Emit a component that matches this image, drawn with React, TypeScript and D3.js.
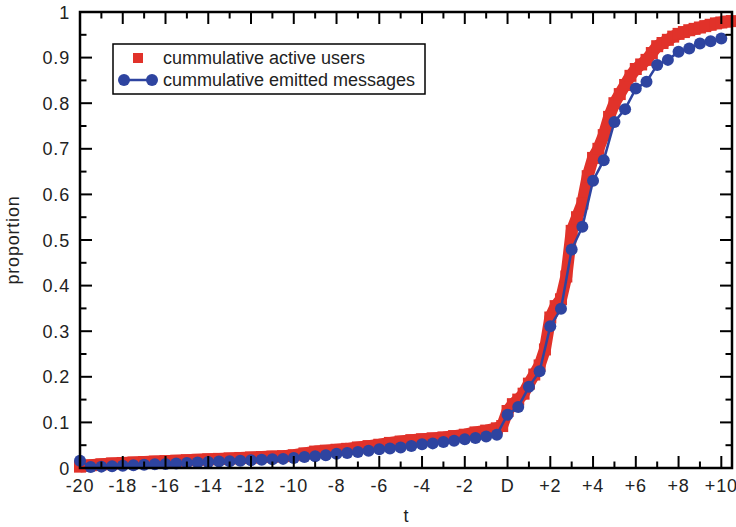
import { scaleLinear, line, range } from "d3";

const width = 736;
const height = 527;
const margin = { top: 12, right: 4, bottom: 59, left: 80 };

const xMin = -20;
const xMax = 10.5;

const xTickValues = [-20, -18, -16, -14, -12, -10, -8, -6, -4, -2, 0, 2, 4, 6, 8, 10];
const xTickLabels = ["-20", "-18", "-16", "-14", "-12", "-10", "-8", "-6", "-4", "-2", "D", "+2", "+4", "+6", "+8", "+10"];
const yTickValues = [0, 0.1, 0.2, 0.3, 0.4, 0.5, 0.6, 0.7, 0.8, 0.9, 1];
const yTickLabels = ["0", "0.1", "0.2", "0.3", "0.4", "0.5", "0.6", "0.7", "0.8", "0.9", "1"];

// cummulative active users (red squares)
const usersT = [
  -20, -19.5, -19, -18.5, -18, -17.5, -17, -16.5, -16, -15.5, -15, -14.5, -14, -13.5, -13, -12.5,
  -12, -11.5, -11, -10.5, -10, -9.5, -9, -8.5, -8, -7.5, -7, -6.5, -6, -5.5, -5, -4.5, -4, -3.5,
  -3, -2.5, -2, -1.5, -1, -0.5, -0.25, 0, 0.25, 0.5, 0.75, 1, 1.25, 1.5, 1.75, 2, 2.25, 2.5, 2.75,
  3, 3.25, 3.5, 3.75, 4, 4.25, 4.5, 4.75, 5, 5.25, 5.5, 5.75, 6, 6.25, 6.5, 6.75, 7, 7.25, 7.5,
  7.75, 8, 8.25, 8.5, 8.75, 9, 9.25, 9.5, 9.75, 10, 10.25, 10.5,
];
const usersV = [
  0.003, 0.006, 0.008, 0.01, 0.011, 0.012, 0.013, 0.014, 0.015, 0.016, 0.017, 0.018, 0.019, 0.02,
  0.021, 0.022, 0.023, 0.024, 0.025, 0.026, 0.028, 0.032, 0.036, 0.038, 0.04, 0.042, 0.045, 0.048,
  0.051, 0.055, 0.058, 0.061, 0.063, 0.065, 0.067, 0.07, 0.073, 0.078, 0.082, 0.087, 0.092, 0.125,
  0.14, 0.15, 0.163, 0.185, 0.205, 0.225, 0.26, 0.33, 0.355, 0.37, 0.42, 0.52, 0.55, 0.58, 0.64,
  0.68, 0.7, 0.73, 0.77, 0.8, 0.82, 0.84, 0.86, 0.875, 0.885, 0.895, 0.91, 0.925, 0.932, 0.939,
  0.946, 0.952, 0.956, 0.96, 0.963, 0.966, 0.969, 0.972, 0.975, 0.977, 0.979, 0.98,
];

// cummulative emitted messages (blue circles), every half day
const msgT = [
  -20, -19.5, -19, -18.5, -18, -17.5, -17, -16.5, -16, -15.5, -15, -14.5, -14, -13.5, -13, -12.5,
  -12, -11.5, -11, -10.5, -10, -9.5, -9, -8.5, -8, -7.5, -7, -6.5, -6, -5.5, -5, -4.5, -4, -3.5,
  -3, -2.5, -2, -1.5, -1, -0.5, 0, 0.5, 1, 1.5, 2, 2.5, 3, 3.5, 4, 4.5, 5, 5.5, 6, 6.5, 7, 7.5, 8,
  8.5, 9, 9.5, 10,
];
const msgV = [
  0.016, 0.002, 0.003, 0.004, 0.005, 0.006, 0.007, 0.008, 0.009, 0.01, 0.011, 0.012, 0.013, 0.014,
  0.015, 0.016, 0.017, 0.018, 0.019, 0.02, 0.022, 0.024, 0.026, 0.028, 0.031, 0.033, 0.035, 0.038,
  0.041, 0.043, 0.045, 0.048, 0.052, 0.054, 0.057, 0.06, 0.063, 0.066, 0.069, 0.073, 0.117, 0.134,
  0.178, 0.212, 0.311, 0.349, 0.479, 0.529, 0.63, 0.675, 0.759, 0.787, 0.832, 0.847, 0.884, 0.895,
  0.913, 0.92, 0.931, 0.936, 0.942,
];

const red = "#e1322a";
const blue = "#2e44a0";
const font = "'Liberation Sans', Arial, Helvetica, sans-serif";

const App = () => {
  const innerWidth = width - margin.left - margin.right;
  const innerHeight = height - margin.top - margin.bottom;

  const xScale = scaleLinear().domain([xMin, xMax]).range([0, innerWidth]);
  const yScale = scaleLinear().domain([0, 1]).range([innerHeight, 0]);

  const users = usersT.map((t, i) => [t, usersV[i]]);
  const msgs = msgT.map((t, i) => [t, msgV[i]]);

  const lineGenerator = line()
    .x((d) => xScale(d[0]))
    .y((d) => yScale(d[1]));

  const xMinor = range(-19, 11, 2);
  const yMinor = range(0.05, 1, 0.1);
  const major = 12;
  const minor = 6.5;
  const sq = 12;

  return (
    <svg
      width={width}
      height={height}
      style={{ position: "absolute", left: 0, top: 0 }}
      fontFamily={font}
    >
      <rect width={width} height={height} fill="white" />
      <g transform={`translate(${margin.left},${margin.top})`}>
        {/* red band */}
        <path
          d={lineGenerator(users)}
          fill="none"
          stroke={red}
          strokeWidth={sq}
          strokeLinejoin="round"
        />
        {users.map((d, i) => (
          <rect
            key={i}
            x={xScale(d[0]) - sq / 2}
            y={yScale(d[1]) - sq / 2}
            width={sq}
            height={sq}
            fill={red}
          />
        ))}
        {/* blue line */}
        <path d={lineGenerator(msgs)} fill="none" stroke={blue} strokeWidth={2.5} />
        {msgs.map((d, i) => (
          <circle key={i} cx={xScale(d[0])} cy={yScale(d[1])} r={6} fill={blue} />
        ))}

        {/* ticks */}
        <g stroke="black" strokeWidth={2}>
          {xTickValues.map((v, i) => (
            <g key={i} transform={`translate(${xScale(v)},0)`}>
              <line y1={innerHeight} y2={innerHeight - major} />
              <line y1={0} y2={major} />
            </g>
          ))}
          {xMinor.map((v, i) => (
            <g key={i} transform={`translate(${xScale(v)},0)`}>
              <line y1={innerHeight} y2={innerHeight - minor} />
              <line y1={0} y2={minor} />
            </g>
          ))}
          {yTickValues.map((v, i) => (
            <g key={i} transform={`translate(0,${yScale(v)})`}>
              <line x1={0} x2={major} />
              <line x1={innerWidth} x2={innerWidth - major} />
            </g>
          ))}
          {yMinor.map((v, i) => (
            <g key={i} transform={`translate(0,${yScale(v)})`}>
              <line x1={0} x2={minor} />
              <line x1={innerWidth} x2={innerWidth - minor} />
            </g>
          ))}
        </g>
        <rect
          x={0}
          y={0}
          width={innerWidth}
          height={innerHeight}
          fill="none"
          stroke="black"
          strokeWidth={2.5}
        />

        {/* tick labels */}
        {xTickValues.map((v, i) => (
          <text
            key={i}
            x={xScale(v)}
            y={innerHeight + 24}
            textAnchor="middle"
            fontSize={18}
            letterSpacing={0.8}
            fill="#222"
          >
            {xTickLabels[i]}
          </text>
        ))}
        {yTickValues.map((v, i) => (
          <text
            key={i}
            x={-10}
            y={yScale(v) + 6.5}
            textAnchor="end"
            fontSize={18}
            letterSpacing={0.8}
            fill="#222"
          >
            {yTickLabels[i]}
          </text>
        ))}

        {/* axis titles */}
        <text
          x={innerWidth / 2}
          y={innerHeight + 54}
          textAnchor="middle"
          fontSize={18}
          fill="#222"
        >
          t
        </text>
        <text
          transform={`translate(${19 - margin.left},${innerHeight / 2}) rotate(-90)`}
          textAnchor="middle"
          fontSize={18}
          letterSpacing={0.8}
          fill="#222"
        >
          proportion
        </text>
      </g>

      {/* legend */}
      <g>
        <rect x={113} y={44} width={312} height={50} fill="white" stroke="black" strokeWidth={1.5} />
        <rect x={133} y={53} width={10} height={10} fill={red} />
        <line x1={124} x2={152} y1={80} y2={80} stroke={blue} strokeWidth={2.5} />
        <circle cx={124} cy={80} r={6} fill={blue} />
        <circle cx={152} cy={80} r={6} fill={blue} />
        <text x={163} y={64} fontSize={18} fill="#222">
          cummulative active users
        </text>
        <text x={163} y={86} fontSize={18} fill="#222">
          cummulative emitted messages
        </text>
      </g>
    </svg>
  );
};

export default App;
